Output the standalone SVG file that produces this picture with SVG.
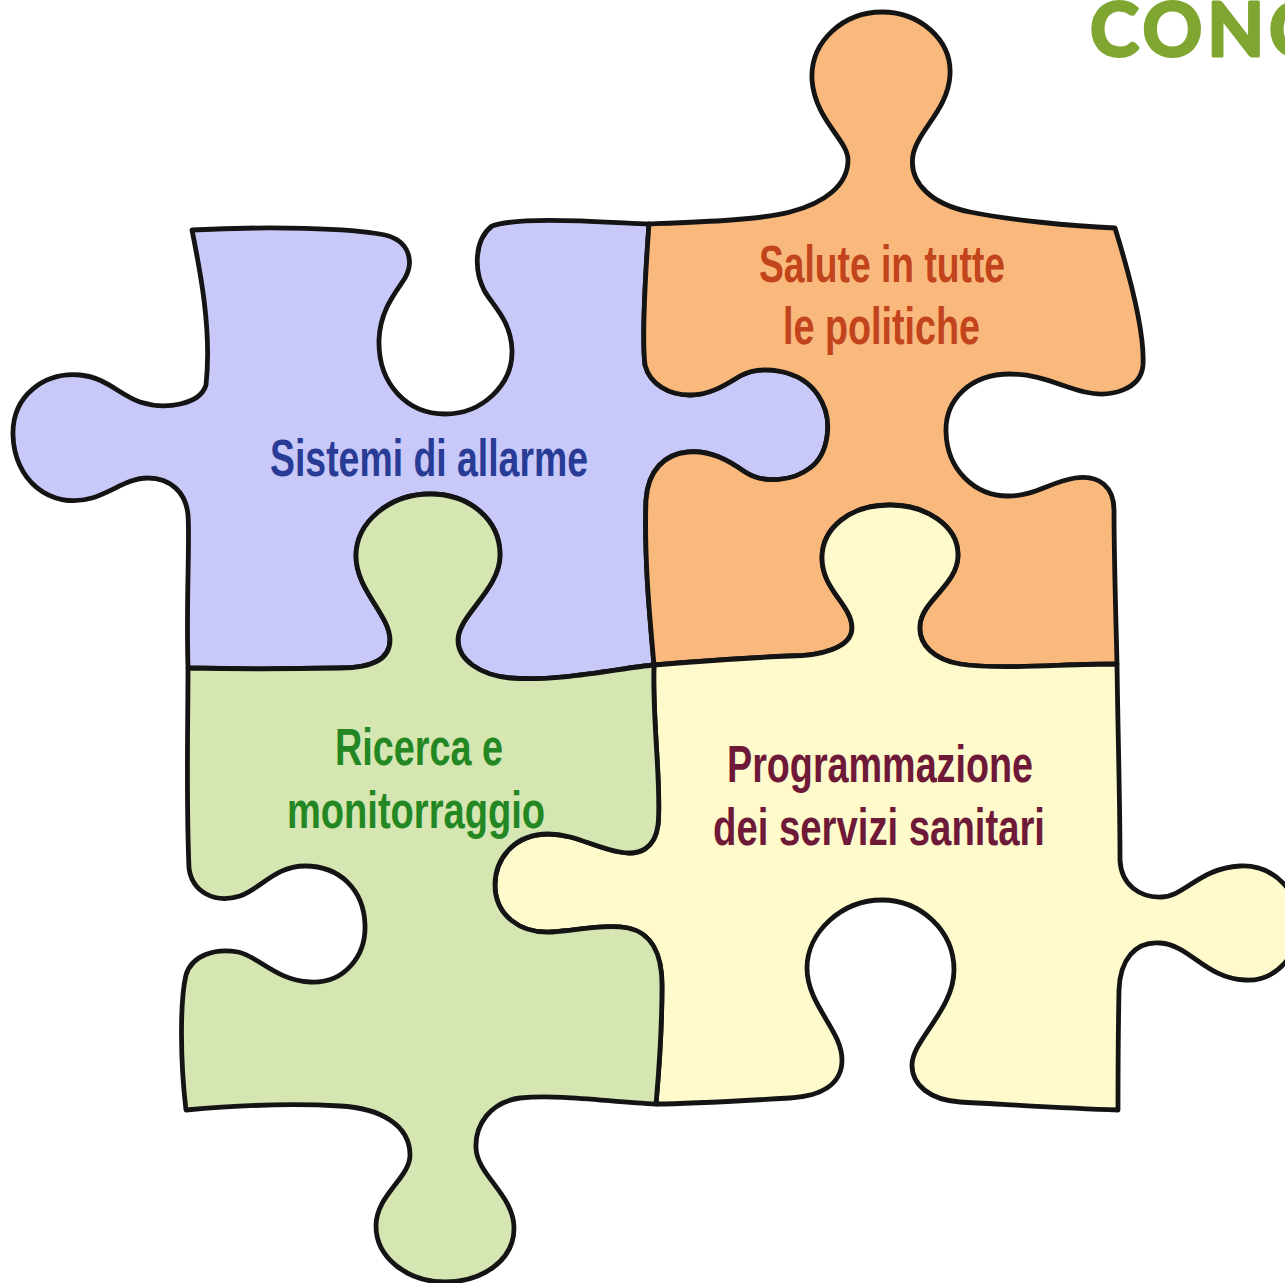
<svg xmlns="http://www.w3.org/2000/svg" width="1285" height="1283" viewBox="0 0 1285 1283">
  <style>
    .piece { stroke: #141414; stroke-width: 4.8; stroke-linejoin: round; stroke-linecap: round; }
    .blue { fill: #c9c9f9; }
    .orange { fill: #fab97c; }
    .green { fill: #d6e6b2; }
    .yellow { fill: #fefacc; }
    .label { font-family: "Liberation Sans", Arial, sans-serif; font-weight: 700; font-size: 52px; }
    .t-blue { fill: #283c96; }
    .t-orange { fill: #c2441c; }
    .t-green { fill: #238823; }
    .t-yellow { fill: #6e1937; }
    .title { font-family: Lato, "Noto Sans", sans-serif; font-weight: 700; font-size: 74px; fill: #80a632; stroke: #80a632; stroke-width: 3; stroke-linejoin: round; }
  </style>
  <rect width="1285" height="1283" fill="#ffffff"/>

  <!-- heading, runs off the right edge -->
  <text class="title" x="1090" y="56" textLength="228" lengthAdjust="spacing">CONC</text>

  <!-- top-left piece -->
  <g id="piece-sistemi">
    <path class="piece blue" d="M192,230
      C270,226 350,228 385,235
      C410,241 414,262 405,278
      C396,292 380,310 379,340
      C378,385 408,414 445,414
      C482,414 513,385 512,350
      C511,320 492,305 484,290
      C474,270 474,240 492,226
      C520,216 600,222 649,224
      C645,280 642,340 645,365
      C650,385 670,395 690,395
      C710,395 725,385 740,376
      C760,365 800,368 818,395
      C835,420 828,455 810,468
      C795,480 765,485 745,472
      C728,460 710,450 688,452
      C665,454 648,470 646,500
      C644,560 650,620 654,665
      C620,668 560,682 510,678
      C480,675 458,660 458,640
      C458,615 500,590 500,555
      C500,520 470,494 430,494
      C390,494 356,522 356,556
      C356,590 390,615 390,640
      C390,660 370,668 340,668
      C290,669 230,669 188,668
      C186,600 190,540 188,515
      C186,492 170,478 148,478
      C128,478 112,492 92,498
      C50,510 14,480 13,435
      C12,395 45,372 80,375
      C105,377 120,395 140,402
      C165,410 200,405 206,385
      C212,330 200,270 192,230 Z"/>
    <text class="label t-blue" x="270" y="476" textLength="318" lengthAdjust="spacingAndGlyphs">Sistemi di allarme</text>
  </g>

  <!-- top-right piece -->
  <g id="piece-salute">
    <path class="piece orange" d="M649,224
      C700,222 760,220 790,212
      C825,203 848,185 848,160
      C848,140 815,120 812,80
      C810,40 845,12 882,12
      C920,12 952,40 950,75
      C948,110 918,130 913,155
      C908,185 935,205 970,212
      C1010,220 1070,226 1115,228
      C1128,270 1145,330 1143,365
      C1141,390 1110,398 1085,392
      C1060,386 1040,374 1010,374
      C970,374 945,400 946,432
      C947,470 975,496 1008,496
      C1035,496 1050,482 1075,478
      C1100,474 1114,488 1114,510
      C1114,560 1116,620 1117,664
      C1060,664 1000,670 960,664
      C935,660 918,645 920,625
      C922,600 958,585 958,555
      C958,525 925,505 890,505
      C850,505 822,528 822,558
      C822,590 852,605 852,628
      C852,648 820,656 790,656
      C740,658 690,662 654,665
      C650,620 644,560 646,500
      C648,470 665,454 688,452
      C710,450 728,460 745,472
      C765,485 795,480 810,468
      C828,455 835,420 818,395
      C800,368 760,365 740,376
      C725,385 710,395 690,395
      C670,395 650,385 645,365
      C642,340 645,280 649,224 Z"/>
    <text class="label t-orange" x="759" y="282" textLength="246" lengthAdjust="spacingAndGlyphs">Salute in tutte</text>
    <text class="label t-orange" x="783" y="344" textLength="197" lengthAdjust="spacingAndGlyphs">le politiche</text>
  </g>

  <!-- bottom-right piece -->
  <g id="piece-programmazione">
    <path class="piece yellow" d="M654,665
      C690,662 740,658 790,656
      C820,656 852,648 852,628
      C852,605 822,590 822,558
      C822,528 850,505 890,505
      C925,505 958,525 958,555
      C958,585 922,600 920,625
      C918,645 935,660 960,664
      C1000,670 1060,664 1117,664
      C1118,740 1120,800 1120,860
      C1121,885 1140,898 1162,897
      C1185,896 1200,868 1240,866
      C1275,864 1300,895 1300,922
      C1300,955 1275,982 1245,980
      C1205,978 1190,945 1160,943
      C1135,941 1120,960 1119,990
      C1118,1040 1118,1080 1118,1110
      C1060,1108 1000,1104 960,1102
      C930,1100 912,1085 912,1065
      C912,1040 954,1010 954,970
      C954,930 920,900 882,900
      C842,900 807,932 807,968
      C807,1005 842,1030 842,1060
      C842,1085 820,1096 790,1098
      C740,1101 690,1104 656,1104
      C658,1080 662,1040 662,985
      C662,955 652,933 628,928
      C605,924 580,930 552,932
      C520,934 495,915 495,885
      C495,858 515,834 548,834
      C575,834 595,848 620,852
      C640,856 655,848 658,825
      C662,790 652,720 654,665 Z"/>
    <text class="label t-yellow" x="727" y="782" textLength="306" lengthAdjust="spacingAndGlyphs">Programmazione</text>
    <text class="label t-yellow" x="713" y="845" textLength="332" lengthAdjust="spacingAndGlyphs">dei servizi sanitari</text>
  </g>

  <!-- bottom-left piece -->
  <g id="piece-ricerca">
    <path class="piece green" d="M188,668
      C230,669 290,669 340,668
      C370,668 390,660 390,640
      C390,615 356,590 356,556
      C356,522 390,494 430,494
      C470,494 500,520 500,555
      C500,590 458,615 458,640
      C458,660 480,675 510,678
      C560,682 620,668 654,665
      C652,720 662,790 658,825
      C655,848 640,856 620,852
      C595,848 575,834 548,834
      C515,834 495,858 495,885
      C495,915 520,934 552,932
      C580,930 605,924 628,928
      C652,933 662,955 662,985
      C662,1040 658,1080 656,1104
      C610,1102 560,1094 520,1098
      C490,1102 475,1125 476,1148
      C477,1175 514,1195 514,1228
      C514,1262 480,1282 445,1282
      C408,1282 376,1258 376,1226
      C376,1195 410,1178 410,1155
      C410,1125 380,1108 340,1106
      C290,1103 230,1106 186,1110
      C180,1060 180,1000 186,975
      C192,955 215,948 238,952
      C258,956 275,980 310,982
      C345,984 366,955 365,925
      C364,890 340,866 305,866
      C275,866 262,888 240,896
      C215,904 192,892 189,868
      C186,800 188,720 188,668 Z"/>
    <text class="label t-green" x="335" y="765" textLength="168" lengthAdjust="spacingAndGlyphs">Ricerca e</text>
    <text class="label t-green" x="287" y="828" textLength="258" lengthAdjust="spacingAndGlyphs">monitorraggio</text>
  </g>
</svg>
